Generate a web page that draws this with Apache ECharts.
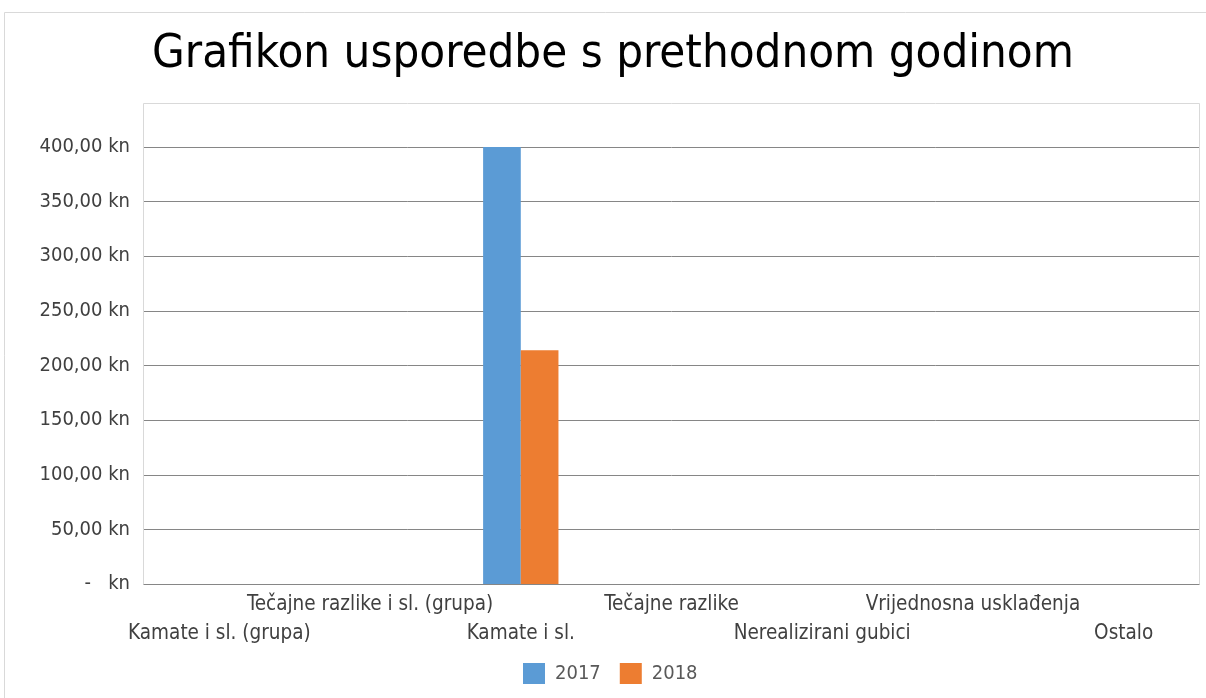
<!DOCTYPE html>
<html>
<head>
<meta charset="utf-8">
<script src="https://cdn.jsdelivr.net/npm/echarts@6/dist/echarts.min.js"></script>
<style>
html,body{margin:0;padding:0;background:#fff;}
#c{width:1206px;height:698px;}
</style>
</head>
<body>
<div id="c"></div>
<script>
const categories = ['Kamate i sl. (grupa)', 'Tečajne razlike i sl. (grupa)', 'Kamate i sl.', 'Tečajne razlike', 'Nerealizirani gubici', 'Vrijednosna usklađenja', 'Ostalo'];
const series2017 = [0, 0, 400, 0, 0, 0, 0];
const series2018 = [0, 0, 214, 0, 0, 0, 0];
const yTickLabels = ['-   kn', '50,00 kn', '100,00 kn', '150,00 kn', '200,00 kn', '250,00 kn', '300,00 kn', '350,00 kn', '400,00 kn'];

const FONT = '"DejaVu Sans Condensed", "DejaVu Sans", sans-serif';
const chart = echarts.init(document.getElementById('c'));
chart.setOption({
  animation: false,
  backgroundColor: '#fff',
  title: {
    text: 'Grafikon usporedbe s prethodnom godinom',
    left: 147, top: 26,
    textStyle: { fontFamily: FONT, fontSize: 47, fontWeight: 'normal', color: '#000' }
  },
  graphic: [
    { type: 'line', shape: { x1: 4.5, y1: 12.5, x2: 1206, y2: 12.5 }, style: { stroke: '#d9d9d9', lineWidth: 1 } },
    { type: 'line', shape: { x1: 4.5, y1: 12.5, x2: 4.5, y2: 698 }, style: { stroke: '#d9d9d9', lineWidth: 1 } },
    { type: 'rect', shape: { x: 143.5, y: 103.5, width: 1056, height: 481 }, style: { fill: 'none', stroke: '#d9d9d9', lineWidth: 1 }, z: -1 }
  ],
  legend: {
    data: ['2017', '2018'],
    left: 523, top: 663, padding: 0,
    itemWidth: 22, itemHeight: 21, itemGap: 19,
    icon: 'rect',
    textStyle: { fontFamily: FONT, fontSize: 20, color: '#595959', padding: [0, 0, 0, 5] }
  },
  grid: {
    left: 144, right: 7, top: 147, bottom: 114,
    show: false, containLabel: false
  },
  xAxis: {
    type: 'category',
    data: categories,
    axisLine: { show: true, lineStyle: { color: '#868686' } },
    axisTick: { show: false },
    axisLabel: {
      interval: 0, margin: 6,
      fontFamily: FONT, fontSize: 20.5, color: '#404040', lineHeight: 29,
      formatter: (v, i) => (i % 2 === 0 ? '\n' + v : v)
    }
  },
  yAxis: {
    type: 'value', min: 0, max: 400, interval: 50,
    axisLine: { show: false },
    axisTick: { show: false },
    splitLine: { lineStyle: { color: '#868686', width: 1 } },
    axisLabel: {
      margin: 14, fontFamily: FONT, fontSize: 20, color: '#404040',
      formatter: (v) => yTickLabels[Math.round(v / 50)]
    }
  },
  series: [
    { name: '2017', type: 'bar', data: series2017, itemStyle: { color: '#5B9BD5' }, barGap: '0%', barCategoryGap: '50%' },
    { name: '2018', type: 'bar', data: series2018, itemStyle: { color: '#ED7D31' }, barGap: '0%', barCategoryGap: '50%' }
  ]
});
</script>
</body>
</html>
